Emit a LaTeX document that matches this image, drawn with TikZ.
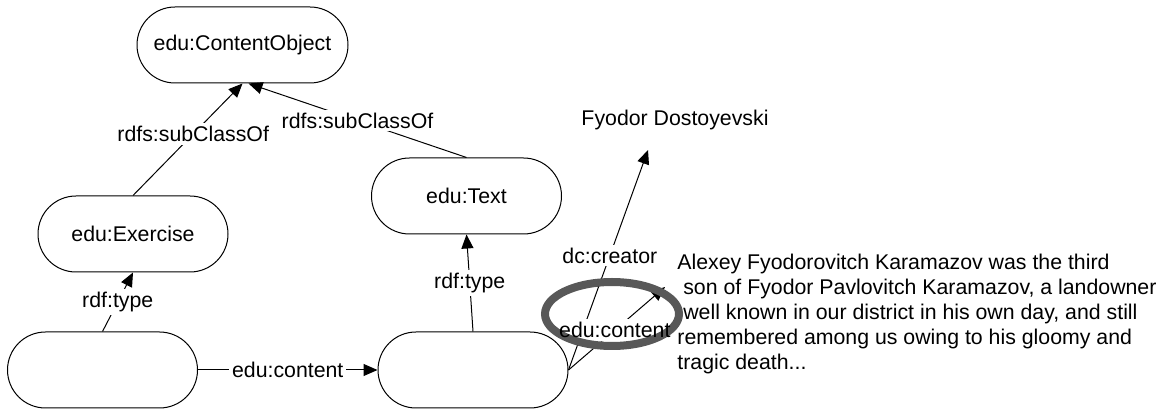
\documentclass[tikz,border=0pt]{standalone}
\usepackage{fontspec}
\setmainfont{Liberation Sans}
\usetikzlibrary{arrows.meta}
\pgfdeclarelayer{fg}
\pgfsetlayers{main,fg}
\definecolor{ringgrey}{RGB}{88,88,88}
\tikzset{
  res/.style={draw, line width=0.5pt, rectangle, rounded corners=19pt,
    minimum width=95pt, minimum height=38pt, inner sep=0pt},
  lbl/.style={fill=white, inner sep=1.5pt},
  free/.style={inner sep=1pt},
  arr/.style={line width=0.5pt, -{Triangle[length=7pt,width=6pt]}},
}
\begin{document}
\begin{tikzpicture}[x=0.5pt, y=-0.5pt, font=\fontsize{10.65}{12.5}\selectfont]
\useasboundingbox (0,0) rectangle (1171,410);

% classes
\node[res, minimum width=105.5pt] (co) at (242.5,45) {edu:ContentObject};
\node[res] (ex) at (133,234) {edu:Exercise};
\node[res] (tx) at (466.5,196) {edu:Text};

% anonymous resources
\node[res] (bl) at (102.5,370) {};
\node[res] (bm) at (473,370) {};

% literals
\node[free] (fd) at (675,120) {Fyodor Dostoyevski};
\node[free, anchor=north west, align=left, inner sep=0pt] (lit) at (677,254)
  {Alexey Fyodorovitch Karamazov was the third\\
   \hspace*{0.278em}son of Fyodor Pavlovitch Karamazov, a landowner\\
   \hspace*{0.278em}well known in our district in his own day, and still\\
   remembered among us owing to his gloomy and\\
   tragic death...};
\coordinate (fdin) at (648,150);
\coordinate (litin) at (665,287);

% subclass and type statements
\draw[arr] (ex.north) -- node[lbl, pos=0.55] {rdfs:subClassOf} (co.south);
\draw[arr] (tx.north) -- node[lbl] {rdfs:subClassOf} ([xshift=3]co.south);
\draw[arr] (bl.north) -- node[lbl] {rdf:type} (ex.south);
\draw[arr] (bm.north) -- node[lbl] {rdf:type} (tx.south);

% properties
\draw[arr] (bl.east) -- node[lbl] {edu:content} (bm.west);

% the highlighted property label sits above the ring
\begin{pgfonlayer}{fg}
  \path (bm.east) -- node[inner sep=1.5pt, pos=0.48] (ec) {edu:content} (litin);
\end{pgfonlayer}

% both properties of the text resource, cut away behind that label
\begin{scope}
  \clip (-10,-10) -- (1181,-10) -- (1181,420) -- (-10,420) -- cycle
        (ec.south west) -- (ec.south east) -- (ec.north east) -- (ec.north west) -- cycle;
  \draw[arr] (bm.east) -- node[lbl, pos=0.52] {dc:creator} (fdin);
  \draw[arr] (bm.east) -- (litin);
\end{scope}

% highlight ring
\draw[ringgrey, line width=4pt] (612,314) ellipse [x radius=67, y radius=32];
\end{tikzpicture}
\end{document}
